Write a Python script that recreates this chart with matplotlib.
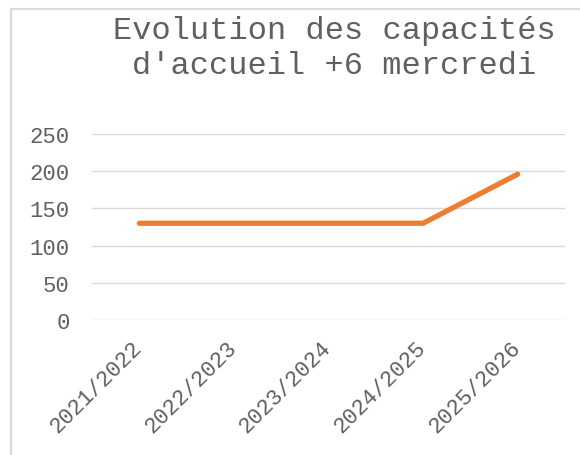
import matplotlib
matplotlib.use("Agg")
import matplotlib.pyplot as plt
import matplotlib.transforms as mtransforms
from matplotlib.patches import Rectangle

categories = ["2021/2022", "2022/2023", "2023/2024", "2024/2025", "2025/2026"]
values = [130, 130, 130, 130, 196]
title_lines = ["Evolution des capacités", "d'accueil +6 mercredi"]
yticks = [0, 50, 100, 150, 200, 250]

W, H = 580, 456
FONT = "Liberation Mono"
TXT = "#606060"

fig = plt.figure(figsize=(W / 100, H / 100), dpi=100)
fig.patch.set_facecolor("white")

# chart border (extends past the right and bottom edges)
fig.patches.append(Rectangle((10.5 / W, -0.1), 1.2, 1 - 9.5 / H + 0.1,
                             transform=fig.transFigure, fill=False,
                             ec="#d9d9d9", lw=1.5))

ax = fig.add_axes([92 / W, 1 - 321 / H, (565 - 92) / W, (321 - 135) / H])
ax.set_xlim(-0.5, len(categories) - 0.5)
ax.set_ylim(0, 250)
ax.set_yticks(yticks)
ax.set_yticklabels([str(v) for v in yticks], family=FONT, fontsize=16, color=TXT)
ax.set_xticks(range(len(categories)))
ax.set_xticklabels(categories, family=FONT, fontsize=16, color=TXT,
                   rotation=45, ha="right", va="top", rotation_mode="anchor")
ax.tick_params(axis="y", length=0, pad=16)
ax.tick_params(axis="x", length=0, pad=12)
shift = mtransforms.ScaledTranslation(-0.08, 0, fig.dpi_scale_trans)
for lab in ax.get_xticklabels():
    lab.set_transform(lab.get_transform() + shift)
for s in ax.spines.values():
    s.set_visible(False)
ax.yaxis.grid(True, color="#d9d9d9", lw=1.0)
ax.set_axisbelow(True)

ax.plot(range(len(categories)), values, color="#ED7D31", lw=3.8,
        solid_capstyle="round", solid_joinstyle="round", zorder=3)

fig.text(334 / W, 1 - 39 / H, title_lines[0], family=FONT, fontsize=23,
         color=TXT, ha="center", va="baseline")
fig.text(334 / W, 1 - 74 / H, title_lines[1], family=FONT, fontsize=23,
         color=TXT, ha="center", va="baseline")

fig.savefig("out.png", dpi=100)
